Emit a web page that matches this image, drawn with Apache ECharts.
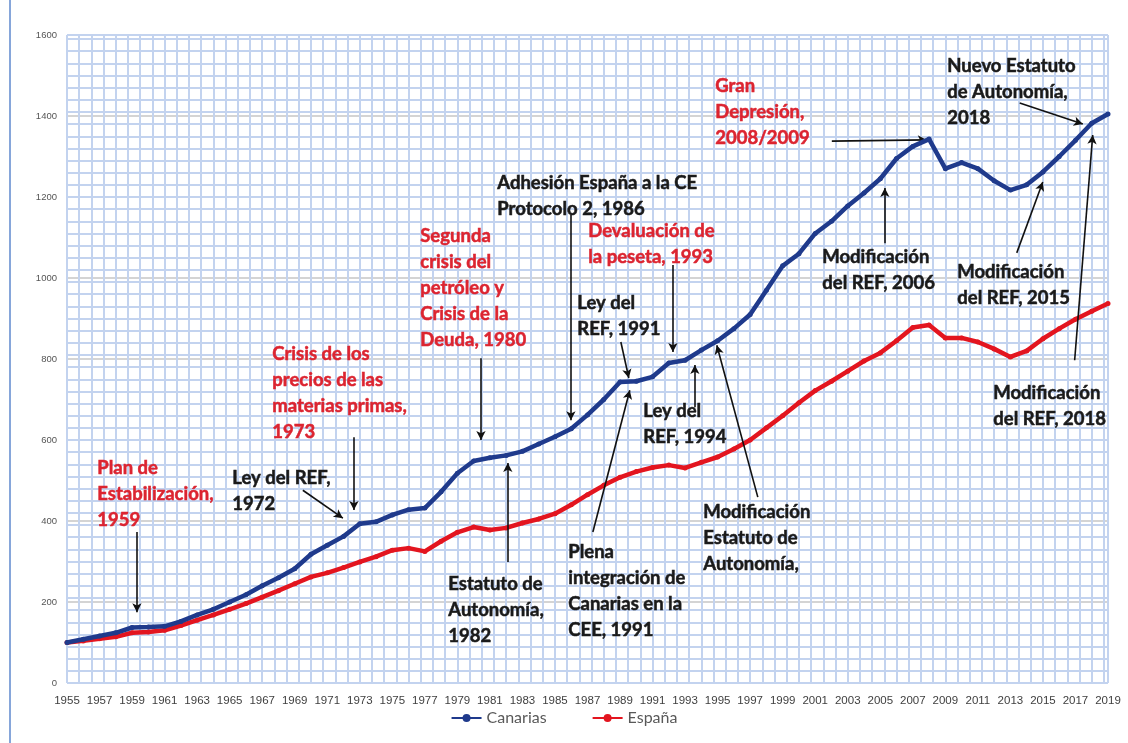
<!DOCTYPE html>
<html><head><meta charset="utf-8">
<script src="https://cdn.jsdelivr.net/npm/echarts@6/dist/echarts.min.js"></script>
<style>html,body{margin:0;padding:0;background:#fff}#c{width:1128px;height:743px}</style>
</head><body><div id="c"></div>
<script>
const years = [];
for (let y = 1955; y <= 2019; y++) years.push(String(y));
const canarias = [100,108,116,124,137,138,140,152,168,182,200,218,240,260,282,318,340,362,393,398,
  415,428,432,472,518,548,556,562,572,590,608,628,662,700,743,745,756,790,797,822,
  845,875,910,970,1030,1060,1110,1140,1178,1210,1245,1295,1325,1343,1270,1285,1270,1240,1217,1230,
  1262,1300,1340,1382,1405];
const espana = [100,104,109,114,124,126,130,142,155,168,182,196,212,228,245,262,272,285,299,312,
  328,333,325,350,372,385,378,383,395,405,418,440,465,488,508,522,532,538,531,545,
  558,578,600,630,660,692,722,745,770,795,815,845,878,884,852,852,842,825,805,820,
  850,875,898,918,937];
const yTicks = [0,200,400,600,800,1000,1200,1400,1600];

// annotation arrows: [fromYear, fromValue, toYear, toValue]
const arrows = [
  [1959.3,373,1959.3,175],
  [1969.5,476,1971.96,407],
  [1972.64,607,1972.64,427],
  [1980.45,802,1980.45,600],
  [1985.98,1156,1985.98,649],
  [1992.25,1032,1992.25,817],
  [1989.05,842,1989.54,753],
  [1993.6,681,1993.6,785],
  [1982.1,299,1982.1,543],
  [1987.33,373,1989.6,723],
  [1997.47,459,1994.95,834],
  [2002.02,1338,2007.86,1341],
  [2013.57,1432,2017.45,1380],
  [2005.28,1086,2005.28,1222],
  [2013.39,1062,2014.99,1237],
  [2016.95,797,2018.06,1353]
];
const RED = '#dc2430', BLK = '#1a1a1a';
const notes = [
  ['Plan de\nEstabilización,\n1959', RED, 97, 455],
  ['Ley del REF,\n1972', BLK, 232, 465],
  ['Crisis de los\nprecios de las\nmaterias primas,\n1973', RED, 272, 341],
  ['Segunda\ncrisis del\npetróleo y\nCrisis de la\nDeuda, 1980', RED, 420, 223],
  ['Adhesión España a la CE\nProtocolo 2, 1986', BLK, 497, 170],
  ['Devaluación de\nla peseta, 1993', RED, 588, 218],
  ['Ley del\nREF, 1991', BLK, 577, 290],
  ['Ley del\nREF, 1994', BLK, 643, 398],
  ['Estatuto de\nAutonomía,\n1982', BLK, 448, 571],
  ['Plena\nintegración de\nCanarias en la\nCEE, 1991', BLK, 568, 539],
  ['Modificación\nEstatuto de\nAutonomía,', BLK, 703, 499],
  ['Gran\nDepresión,\n2008/2009', RED, 715, 73],
  ['Nuevo Estatuto\nde Autonomía,\n2018', BLK, 947, 53],
  ['Modificación\ndel REF, 2006', BLK, 822, 244],
  ['Modificación\ndel REF, 2015', BLK, 957, 259],
  ['Modificación\ndel REF, 2018', BLK, 993, 380]
];

const chart = echarts.init(document.getElementById('c'));
const graphics = notes.map(n => ({
  type: 'text', left: n[2], top: n[3], z: 100,
  style: { text: n[0], fill: n[1], stroke: n[1], lineWidth: 0.5, font: 'bold 18.5px Lato', lineHeight: 26 }
}));
graphics.push({ type: 'line', shape: { x1: 10, y1: 0, x2: 10, y2: 743 }, style: { stroke: '#86a6da', lineWidth: 2 } });

chart.setOption({
  animation: false,
  backgroundColor: '#fff',
  grid: { left: 67, right: 20, top: 35, bottom: 60 },
  legend: {
    data: ['Canarias', 'España'], bottom: 12, left: 'center', itemGap: 45, itemWidth: 30, itemHeight: 10,
    textStyle: { fontFamily: 'Lato', fontSize: 16, color: '#595959' }
  },
  xAxis: [
    { type: 'category', data: years, boundaryGap: false,
      axisLine: { show: false }, axisTick: { show: false }, splitLine: { show: false },
      axisLabel: { interval: 1, fontSize: 11.5, color: '#404040', fontFamily: 'Liberation Sans', margin: 12 } },
    { type: 'value', min: 0, max: 64, interval: 0.75, position: 'top',
      axisLine: { show: false }, axisTick: { show: false }, axisLabel: { show: false },
      splitLine: { show: true, lineStyle: { color: '#c3d3ef', width: 2 } } }
  ],
  yAxis: [
    { type: 'value', min: 0, max: 1600, interval: 200,
      axisLine: { show: false }, axisTick: { show: false },
      axisLabel: { fontSize: 9.5, color: '#555', fontFamily: 'Liberation Sans', margin: 10,
        customValues: yTicks, formatter: v => String(v) },
      splitLine: { show: true, lineStyle: { color: '#d4d4d4', width: 2 } } },
    { type: 'value', min: 0, max: 1600, interval: 30,
      axisLine: { show: false }, axisTick: { show: false }, axisLabel: { show: false },
      splitLine: { show: true, lineStyle: { color: '#c3d3ef', width: 2 } } }
  ],
  series: [
    { name: 'Canarias', type: 'line', data: canarias, xAxisIndex: 0, yAxisIndex: 0, z: 5,
      symbol: 'circle', symbolSize: 5, showSymbol: true,
      itemStyle: { color: '#1f3a8c' }, lineStyle: { color: '#1f3a8c', width: 4.5 } },
    { name: 'España', type: 'line', data: espana, xAxisIndex: 0, yAxisIndex: 0, z: 4,
      symbol: 'circle', symbolSize: 5, showSymbol: true,
      itemStyle: { color: '#e3151f' }, lineStyle: { color: '#e3151f', width: 4.5 } },
    { name: 'notas', type: 'line', xAxisIndex: 1, yAxisIndex: 0, data: [[0, 0]], symbol: 'none',
      lineStyle: { opacity: 0 }, silent: true, z: 10,
      markLine: {
        silent: true, animation: false, symbol: ['none', 'arrow'], symbolSize: [7, 9],
        label: { show: false },
        lineStyle: { color: '#111', width: 1.6, type: 'solid' },
        data: arrows.map(a => [{ coord: [a[0] - 1955, a[1]] }, { coord: [a[2] - 1955, a[3]] }])
      } }
  ],
  graphic: graphics
});
</script></body></html>
